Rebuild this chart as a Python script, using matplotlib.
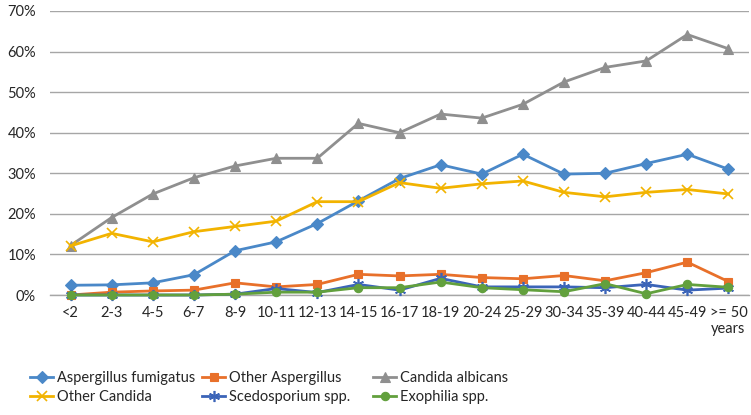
import matplotlib
matplotlib.use("Agg")
import matplotlib.pyplot as plt
from matplotlib.ticker import FuncFormatter, MultipleLocator

categories = ["<2", "2-3", "4-5", "6-7", "8-9", "10-11", "12-13", "14-15", "16-17",
              "18-19", "20-24", "25-29", "30-34", "35-39", "40-44", "45-49", ">= 50\nyears"]

asp_fumigatus = [2.4, 2.5, 3.0, 5.0, 10.9, 13.1, 17.6, 23.2, 28.7, 32.1, 29.8, 34.7, 29.8, 30.0, 32.4, 34.7, 31.0]
other_asp     = [0.0, 0.7, 1.0, 1.2, 3.0, 2.0, 2.6, 5.1, 4.7, 5.1, 4.3, 4.0, 4.8, 3.5, 5.5, 8.1, 3.3]
c_albicans    = [12.2, 19.1, 24.9, 28.9, 31.8, 33.7, 33.7, 42.3, 40.0, 44.6, 43.6, 47.0, 52.5, 56.1, 57.7, 64.2, 60.7]
other_candida = [12.1, 15.2, 13.1, 15.6, 16.9, 18.2, 23.0, 23.0, 27.7, 26.3, 27.4, 28.1, 25.3, 24.2, 25.3, 26.0, 24.9]
scedosporium  = [0.0, 0.0, 0.0, 0.0, 0.2, 1.6, 0.6, 2.6, 1.2, 4.1, 2.0, 2.0, 2.0, 1.8, 2.6, 1.2, 1.7]
exophilia     = [0.0, 0.0, 0.0, 0.0, 0.2, 0.7, 0.7, 1.8, 1.8, 3.2, 1.8, 1.3, 0.8, 2.8, 0.3, 2.6, 1.9]

series = [
    ("Aspergillus fumigatus", asp_fumigatus, "#4A88C8", "D", 6),
    ("Other Aspergillus", other_asp, "#E8702A", "s", 6),
    ("Candida albicans", c_albicans, "#8F8F8F", "^", 7),
    ("Other Candida", other_candida, "#F2B300", "x", 7),
    ("Scedosporium spp.", scedosporium, "#3B64B8", (6, 2, 0), 8),
    ("Exophilia spp.", exophilia, "#62A03D", "o", 6),
]

plt.rcParams["font.family"] = ["Lato", "DejaVu Sans"]

fig = plt.figure(figsize=(7.51, 4.15), dpi=100)
ax = fig.add_axes([50/751, (415-295)/415, 699/751, (295-11)/415])

x = list(range(len(categories)))
handles = []
for name, vals, col, mk, ms in series:
    mew = 1.2 if mk in ("x",) or isinstance(mk, tuple) else 0.8
    h, = ax.plot(x, [v/100 for v in vals], color=col, lw=2.0, marker=mk, markersize=ms,
                 markeredgecolor=col, markerfacecolor=col, markeredgewidth=mew, label=name,
                 clip_on=False, zorder=3)
    handles.append(h)

ax.set_xlim(-0.5, len(categories) - 0.5)
ax.set_ylim(0, 0.7)
ax.yaxis.set_major_locator(MultipleLocator(0.1))
ax.yaxis.set_major_formatter(FuncFormatter(lambda v, p: f"{v*100:.0f}%"))
ax.set_xticks(x)
ax.set_xticklabels(categories, linespacing=1.15)
ax.grid(axis="y", color="#A6A6A6", lw=1.0)
ax.set_axisbelow(True)
for s in ["top", "right", "left"]:
    ax.spines[s].set_visible(False)
ax.spines["bottom"].set_color("#A6A6A6")
ax.spines["bottom"].set_linewidth(1.0)
ax.tick_params(axis="both", length=0, labelsize=10.5, colors="#262626")
ax.tick_params(axis="x", pad=8)
ax.tick_params(axis="y", pad=10)

col_x = [30/751, 202/751, 373/751]
for i in range(3):
    hs = [handles[i], handles[i + 3]]
    fig.legend(handles=hs, labels=[h.get_label() for h in hs], loc="upper left",
               bbox_to_anchor=(col_x[i], 1 - 371/415), frameon=False, fontsize=10.5,
               handlelength=1.6, handletextpad=0.25, labelspacing=0.35, borderaxespad=0,
               borderpad=0, labelcolor="#262626")

fig.savefig("out.png", dpi=100)
